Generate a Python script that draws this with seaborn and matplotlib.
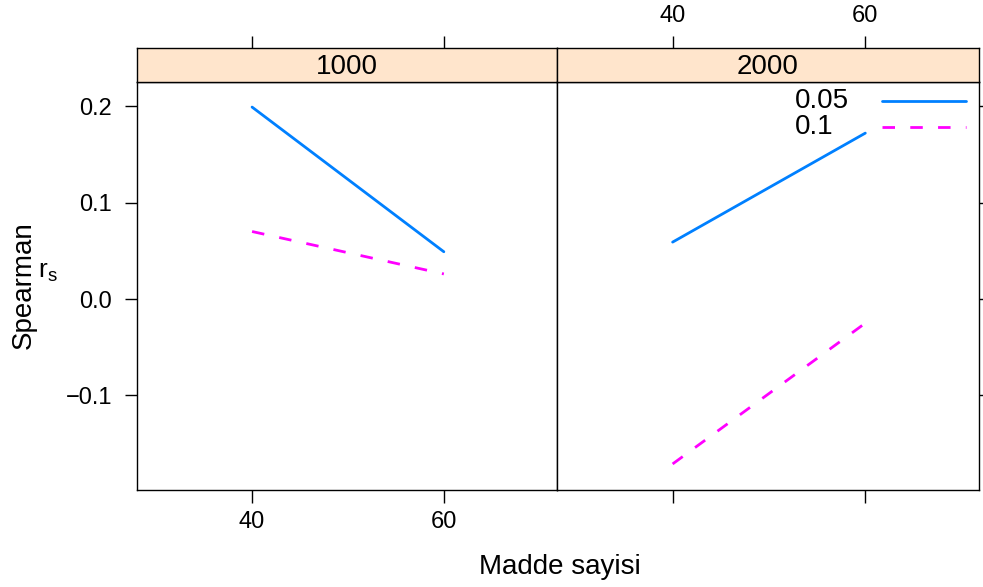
import matplotlib
matplotlib.use("Agg")
import matplotlib.pyplot as plt
from matplotlib.lines import Line2D
import seaborn as sns
import pandas as pd

sns.set_style("white")
plt.rcParams['font.family'] = ['Liberation Sans', 'DejaVu Sans']
plt.rcParams['text.color'] = 'black'
plt.rcParams['axes.labelcolor'] = 'black'
plt.rcParams['xtick.color'] = 'black'
plt.rcParams['ytick.color'] = 'black'

# ---- data ----
sample_sizes = [1000, 2000]
items = [40, 60]
alphas = ["0.05", "0.1"]
values_1000_005 = [0.199, 0.049]
values_1000_01 = [0.070, 0.026]
values_2000_005 = [0.059, 0.172]
values_2000_01 = [-0.171, -0.025]
ytick_vals = [-0.1, 0.0, 0.1, 0.2]
ytick_labels = ["\u22120.1", "0.0", "0.1", "0.2"]

rows = []
for n, a, vals in [(1000, "0.05", values_1000_005), (1000, "0.1", values_1000_01),
                   (2000, "0.05", values_2000_005), (2000, "0.1", values_2000_01)]:
    for it, v in zip(items, vals):
        rows.append({"n": n, "items": it, "alpha": a, "value": v})
df = pd.DataFrame(rows)

palette = {"0.05": "#0080ff", "0.1": "#ff00ff"}
dashes = {"0.05": "", "0.1": (4.5, 5.5)}
LW = 2.0

W, H = 983, 587
fig = plt.figure(figsize=(W / 100, H / 100), dpi=100)

def fx(px):
    return px / W

def fy(py):
    return 1 - py / H

panel_left = [137, 557]
panel_right = [557, 979]
top, bottom = 82, 490
strip_top = 48

xlim = (28.0, 71.8)
ylim = (-0.198, 0.225)

for i, n in enumerate(sample_sizes):
    l, r = panel_left[i], panel_right[i]
    ax = fig.add_axes([fx(l), fy(bottom), fx(r - l), fy(top) - fy(bottom)])
    sub = df[df["n"] == n]
    sns.lineplot(data=sub, x="items", y="value", hue="alpha", style="alpha",
                 palette=palette, dashes=dashes, linewidth=LW, ax=ax,
                 legend=False)
    ax.set_xlim(*xlim)
    ax.set_ylim(*ylim)
    ax.set_xlabel("")
    ax.set_ylabel("")
    ax.set_xticks(items)
    ax.set_yticks(ytick_vals)
    for s in ax.spines.values():
        s.set_visible(True)
        s.set_color("black")
        s.set_linewidth(1.0)
    ax.tick_params(axis="both", direction="out", length=9, width=1.0,
                   color="black", labelsize=17)
    ax.tick_params(axis="x", pad=6)
    ax.tick_params(axis="y", pad=9)
    if i == 0:
        ax.set_xticklabels([str(v) for v in items])
        ax.set_yticklabels(ytick_labels)
        ax.tick_params(axis="y", left=True, right=False, labelleft=True)
        ax.tick_params(axis="x", bottom=True, labelbottom=True)
    else:
        ax.tick_params(axis="x", bottom=True, labelbottom=False)
        ax.tick_params(axis="y", left=False, labelleft=False, right=True, labelright=False)

    # strip
    sax = fig.add_axes([fx(l), fy(top), fx(r - l), fy(strip_top) - fy(top)])
    sax.set_facecolor("#ffe5cc")
    sax.set_xlim(*xlim)
    sax.set_ylim(0, 1)
    sax.set_yticks([])
    sax.set_xticks(items)
    for s in sax.spines.values():
        s.set_visible(True)
        s.set_color("black")
        s.set_linewidth(1.0)
    sax.tick_params(axis="x", direction="out", length=9, width=1.0, color="black",
                    bottom=False, labelbottom=False, top=True,
                    labeltop=(i == 1), labelsize=17, pad=6)
    if i == 1:
        sax.set_xticklabels([str(v) for v in items])
    sax.text(0.5, 0.45, str(n), transform=sax.transAxes, ha="center", va="center",
             fontsize=20)

# legend (key), drawn in figure coordinates
leg_rows = [(alphas[0], 101), (alphas[1], 127)]
for lab, py in leg_rows:
    fig.text(fx(795), fy(py), lab, ha="left", va="center", fontsize=20)
    ls = (0, dashes[lab]) if dashes[lab] else "-"
    fig.add_artist(Line2D([fx(882), fx(966)], [fy(py), fy(py)], color=palette[lab],
                          linewidth=LW, linestyle=ls, transform=fig.transFigure))

fig.text(fx(560), fy(567), "Madde sayisi", ha="center", va="center", fontsize=20)
fig.text(fx(24), fy(285), "Spearman", rotation=90, ha="center", va="center", fontsize=20)
fig.text(fx(48), fy(272), r"$\mathregular{r_s}$", ha="center", va="center", fontsize=19)

fig.savefig("out.png", dpi=100)
